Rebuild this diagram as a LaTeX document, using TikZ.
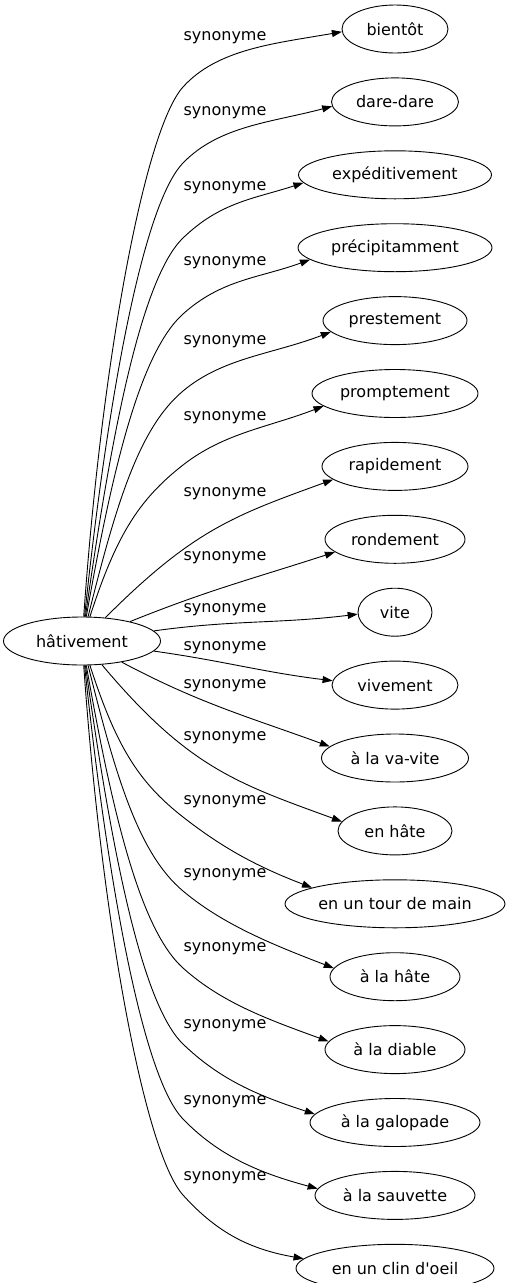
\documentclass[tikz,border=0pt]{standalone}
\usepackage{fontspec}
\setmainfont{DejaVu Sans}
\usetikzlibrary{shapes.geometric, arrows.meta, positioning}

\begin{document}
\begin{tikzpicture}[
    x=1pt, y=1pt,
    node distance = 24pt,
    font=\fontsize{16pt}{19pt}\selectfont,
    word/.style = {
        ellipse, draw=black, line width=0.9pt,
        minimum height=48pt, inner sep=0pt
    },
    lbl/.style  = {inner sep=0pt},
    arr/.style  = {-{Triangle[length=10pt, width=7pt]}, line width=0.9pt},
    legA/.style = {out looseness=1.2, in distance=58pt},
    legB/.style = {out distance=52pt, in looseness=1.0},
    flat/.style = {out looseness=1.2}
]
\useasboundingbox (0,0) rectangle (512,-1283);

%% Source Node
\node[word, minimum width=157pt] (hat) at (82,-641) {hâtivement};

%% Column Nodes
\node[word, minimum width=106pt] (bie) at (395,-29) {bientôt};
\node[word, minimum width=127pt, below=of bie] (dar) {dare-dare};
\node[word, minimum width=193pt, below=of dar] (exp) {expéditivement};
\node[word, minimum width=194pt, below=of exp] (pre) {précipitamment};
\node[word, minimum width=144pt, below=of pre] (prs) {prestement};
\node[word, minimum width=166pt, below=of prs] (pro) {promptement};
\node[word, minimum width=146pt, below=of pro] (rap) {rapidement};
\node[word, minimum width=140pt, below=of rap] (ron) {rondement};
\node[word, minimum width=74pt,  below=of ron] (vit) {vite};
\node[word, minimum width=126pt, below=of vit] (viv) {vivement};
\node[word, minimum width=147pt, below=of viv] (vav) {à la va-vite};
\node[word, minimum width=114pt, below=of vav] (enh) {en hâte};
\node[word, minimum width=220pt, below=of enh] (tou) {en un tour de main};
\node[word, minimum width=130pt, below=of tou] (alh) {à la hâte};
\node[word, minimum width=140pt, below=of alh] (dia) {à la diable};
\node[word, minimum width=170pt, below=of dia] (gal) {à la galopade};
\node[word, minimum width=160pt, below=of gal] (sau) {à la sauvette};
\node[word, minimum width=198pt, below=of sau] (cli) {en un clin d\textquotesingle oeil};

%% Bends
\coordinate (k1)  at (183,-87);
\coordinate (k2)  at (183,-163);
\coordinate (k3)  at (183,-238);
\coordinate (k4)  at (183,-314);
\coordinate (k5)  at (183,-391);
\coordinate (k6)  at (183,-465);
\coordinate (k13) at (183,-817);
\coordinate (k14) at (183,-891);
\coordinate (k15) at (183,-968);
\coordinate (k16) at (183,-1044);
\coordinate (k17) at (183,-1119);
\coordinate (k18) at (183,-1195);

%% Arrows
\draw[arr] (hat) to[out=86, in=228, legA] (k1) to[out=48, in=190, legB] (bie.183);
\draw[arr] (hat) to[out=84, in=226, legA] (k2) to[out=46, in=195, legB] (dar.184);
\draw[arr] (hat) to[out=82, in=224, legA] (k3) to[out=44, in=198, legB] (exp.185);
\draw[arr] (hat) to[out=80, in=222, legA] (k4) to[out=42, in=200, legB] (pre.188);
\draw[arr] (hat) to[out=76, in=220, legA] (k5) to[out=40, in=201, legB] (prs.190);
\draw[arr] (hat) to[out=72, in=218, legA] (k6) to[out=38, in=201, legB] (pro.190);
\draw[arr, flat] (hat) to[out=45,  in=200] (rap.192);
\draw[arr]       (hat) to[out=22,  in=198] (ron.192);
\draw[arr]       (hat) to[out=8,   in=187] (vit.183);
\draw[arr]       (hat) to[out=-8,  in=173] (viv.176);
\draw[arr]       (hat) to[out=-28, in=160] (vav.170);
\draw[arr, flat] (hat) to[out=-50, in=160] (enh.170);
\draw[arr] (hat) to[out=-72, in=142, legA] (k13) to[out=-38, in=159, legB] (tou.169);
\draw[arr] (hat) to[out=-76, in=140, legA] (k14) to[out=-40, in=159, legB] (alh.172);
\draw[arr] (hat) to[out=-80, in=138, legA] (k15) to[out=-42, in=160, legB] (dia.173);
\draw[arr] (hat) to[out=-82, in=136, legA] (k16) to[out=-44, in=162, legB] (gal.174);
\draw[arr] (hat) to[out=-84, in=134, legA] (k17) to[out=-46, in=165, legB] (sau.175);
\draw[arr] (hat) to[out=-86, in=132, legA] (k18) to[out=-48, in=170, legB] (cli.174);

%% Labels
\node[lbl] (s1)  at (225,-38)   {synonyme};
\node[lbl] (s2)  at (225,-113)  {synonyme};
\node[lbl] (s3)  at (225,-188)  {synonyme};
\node[lbl] (s4)  at (225,-263)  {synonyme};
\node[lbl] (s5)  at (225,-342)  {synonyme};
\node[lbl] (s6)  at (225,-418)  {synonyme};
\node[lbl] (s7)  at (225,-494)  {synonyme};
\node[lbl] (s8)  at (225,-558)  {synonyme};
\node[lbl] (s9)  at (225,-610)  {synonyme};
\node[lbl] (s10) at (225,-648)  {synonyme};
\node[lbl] (s11) at (225,-686)  {synonyme};
\node[lbl] (s12) at (225,-738)  {synonyme};
\node[lbl] (s13) at (225,-802)  {synonyme};
\node[lbl] (s14) at (225,-875)  {synonyme};
\node[lbl] (s15) at (225,-949)  {synonyme};
\node[lbl] (s16) at (225,-1026) {synonyme};
\node[lbl] (s17) at (225,-1102) {synonyme};
\node[lbl] (s18) at (225,-1178) {synonyme};

\end{tikzpicture}
\end{document}
